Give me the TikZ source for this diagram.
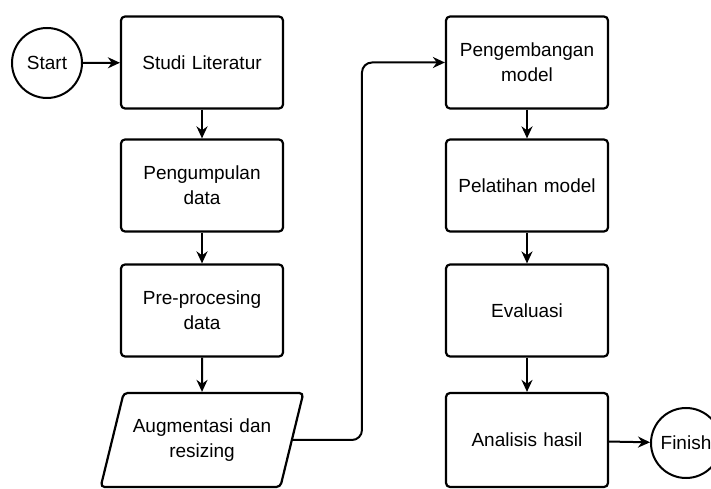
\documentclass[tikz,border=0pt]{standalone}
\usepackage{fontspec}
\setmainfont{Liberation Sans}
\usetikzlibrary{shapes.geometric, arrows.meta}

\begin{document}
\begin{tikzpicture}[x=1pt, y=1pt, font=\fontsize{19}{25}\selectfont]
  % Define styles
  \tikzstyle{process} = [rectangle, draw, line width=2.2pt, rounded corners=4pt, text width=150pt, align=center, minimum width=162pt, minimum height=92pt]
  \tikzstyle{terminal} = [circle, draw, line width=2pt, inner sep=0pt, minimum size=70pt]
  \tikzstyle{io} = [trapezium, trapezium left angle=65, trapezium right angle=115, draw, line width=2.2pt, rounded corners=4pt, text width=150pt, align=center, minimum width=168pt, minimum height=94pt, trapezium stretches body]
  \tikzstyle{line} = [draw, line width=2pt, -{Stealth[length=12pt, width=11pt]}]

  \useasboundingbox (0,0) rectangle (711,489);
  \clip (0,0) rectangle (711,489);

  % Start
  \node[terminal] (start) at (47,426) {Start};

  % Left column
  \node[process] (studi) at (202,426.5) {Studi Literatur};
  \node[process] (kumpul) at (202,303.5) {Pengumpulan data};
  \node[process] (prepro) at (202,178.5) {Pre-procesing data};
  \node[io] (augment) at (202,49) {Augmentasi dan\\resizing};

  % Right column
  \node[process] (kembang) at (527,426.5) {Pengembangan model};
  \node[process] (latih) at (527,303.5) {Pelatihan model};
  \node[process] (evaluasi) at (527,178.5) {Evaluasi};
  \node[process, minimum height=94pt] (analisis) at (527,49) {Analisis hasil};

  % Finish
  \node[terminal] (finish) at (686,46) {Finish};

  % Connections - left column
  \draw[line] (start) -- (studi);
  \draw[line] (studi) -- (kumpul);
  \draw[line] (kumpul) -- (prepro);
  \draw[line] (prepro) -- (augment);

  % Connection to right column
  \draw[line, rounded corners=10pt] (augment.east) -- ++(69,0) |- (kembang.west);

  % Connections - right column
  \draw[line] (kembang) -- (latih);
  \draw[line] (latih) -- (evaluasi);
  \draw[line] (evaluasi) -- (analisis);
  \draw[line] (analisis) -- (finish);

\end{tikzpicture}
\end{document}
